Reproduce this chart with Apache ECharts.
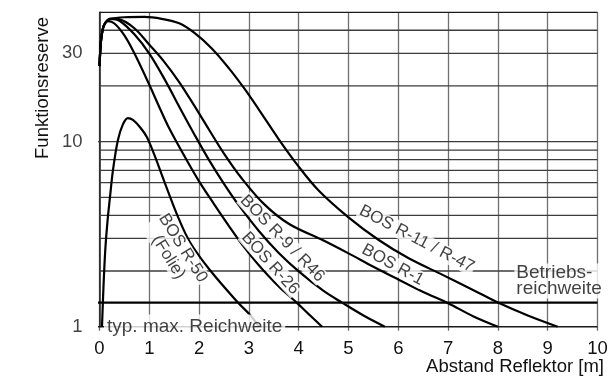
<!DOCTYPE html>
<html><head><meta charset="utf-8">
<script src="https://cdn.jsdelivr.net/npm/echarts@6/dist/echarts.min.js"></script>
<style>html,body{margin:0;padding:0;background:#fff}#c{width:611px;height:376px}</style>
</head><body><div id="c"></div>
<script>
// ---- data ----
const xTicks = [0, 1, 2, 3, 4, 5, 6, 7, 8, 9, 10];
const yTickLabels = [1, 10, 30];
const yGridValues = [1, 2, 3, 4, 5, 6, 7, 8, 9, 10, 20, 30, 40, 50];
const betriebsreichweite = 1.35;

const r50X = [0.05, 0.07, 0.09, 0.12, 0.16, 0.21, 0.27, 0.37, 0.47, 0.57, 0.67, 0.81, 0.95, 1.1, 1.3, 1.58, 1.82, 2.2, 2.78, 3.02, 3.2];
const r50Y = [1.0, 1.4, 1.9, 2.7, 3.7, 5.0, 7.0, 10.2, 12.4, 13.4, 13.1, 12.0, 10.6, 8.5, 6.1, 3.9, 2.85, 2.05, 1.35, 1.16, 1.0];

const r26X = [0, 0.03, 0.07, 0.12, 0.17, 0.3, 0.5, 0.7, 1.0, 1.2, 1.4, 1.7, 2.0, 2.3, 2.6, 2.9, 3.2, 3.6, 3.96, 4.2, 4.47];
const r26Y = [25.6, 35, 41, 44, 44.8, 43.5, 37.5, 30, 20.3, 15.4, 11.8, 8.4, 6.1, 4.6, 3.5, 2.7, 2.15, 1.65, 1.35, 1.17, 1.0];

const r9X = [0, 0.03, 0.07, 0.12, 0.22, 0.4, 0.7, 1.0, 1.3, 1.65, 1.9, 2.2, 2.5, 2.8, 3.2, 3.6, 4.0, 4.5, 4.87, 5.3, 5.73];
const r9Y = [25.6, 35, 41, 44, 46, 45, 38.0, 29.9, 21.9, 14.6, 11.0, 7.95, 5.92, 4.52, 3.29, 2.5, 1.99, 1.56, 1.35, 1.15, 1.0];

const r1X = [0, 0.03, 0.07, 0.12, 0.22, 0.4, 0.7, 1.0, 1.3, 1.6, 1.9, 2.2, 2.5, 2.85, 3.3, 3.8, 4.5, 5.0, 5.5, 6.0, 6.5, 7.0, 7.5, 8.0];
const r1Y = [25.6, 35, 41, 44, 46.2, 45.8, 41, 33.4, 27.0, 21.0, 15.7, 11.6, 8.62, 6.36, 4.61, 3.6, 2.92, 2.49, 2.11, 1.8, 1.54, 1.34, 1.14, 1.0];

const r11X = [0, 0.03, 0.07, 0.12, 0.2, 0.5, 0.9, 1.25, 1.6, 1.9, 2.25, 2.6, 2.9, 3.2, 3.6, 4.0, 4.4, 5.0, 5.6, 6.2, 6.9, 7.5, 8.0, 8.6, 9.2];
const r11Y = [25.6, 35, 41, 44, 45.8, 47, 47.2, 46.1, 43.6, 38.8, 32, 24.9, 19.5, 14.9, 10.3, 7.33, 5.45, 3.9, 2.95, 2.35, 1.9, 1.58, 1.35, 1.15, 1.0];

const curveNames = ['BOS R-50 (Folie)', 'BOS R-26', 'BOS R-9 / R46', 'BOS R-1', 'BOS R-11 / R-47'];
const labelTexts = ['BOS R-50\n(Folie)', 'BOS R-26', 'BOS R-9 / R46', 'BOS R-1', 'BOS R-11 / R-47', 'Betriebs-\nreichweite', 'typ. max. Reichweite'];
const xAxisTitle = 'Abstand Reflektor [m]';
const yAxisTitle = 'Funktionsreserve';

// ---- layout / style (not data) ----
const FONT = 'Liberation Sans, Arial, sans-serif';
const labelAnchors = [[1.53, 2.51], [3.43, 2.20], [3.67, 3.0], [5.89, 2.16], [6.37, 2.98], [8.33, 1.766], [0.09, 1.0]];
const labelRotate = [-58, -48, -46, -29, -27.5, 0, 0];
const gridStart = { 1: -0.23, 10: -0.13 };

const zip = (xs, ys) => xs.map((x, i) => [x, ys[i]]);
const curves = [zip(r50X, r50Y), zip(r26X, r26Y), zip(r9X, r9Y), zip(r1X, r1Y), zip(r11X, r11Y)];

const series = [];
yGridValues.forEach(v => {
  const x0 = gridStart[v] !== undefined ? gridStart[v] : 0;
  series.push({
    type: 'line', silent: true, clip: false, symbol: 'none', z: 1,
    data: [[x0, v], [xTicks[xTicks.length - 1], v]],
    lineStyle: { color: (v === 1 || v === 50) ? '#1a1a1a' : '#3c3c3c', width: (v === 1) ? 1.5 : 1.3 },
    animation: false
  });
});
series.push({
  type: 'line', silent: true, clip: false, symbol: 'none', z: 2,
  data: [[-0.21, betriebsreichweite], [10, betriebsreichweite]],
  lineStyle: { color: '#000', width: 2.4 }, animation: false
});
curves.forEach((c, i) => {
  series.push({
    name: curveNames[i], type: 'line', data: c, symbol: 'none', smooth: 0.35, z: 3,
    lineStyle: { color: '#000', width: 2.2 }, animation: false
  });
});
// y tick labels
series.push({
  type: 'scatter', symbolSize: 0, silent: true, z: 4,
  data: yTickLabels.map(v => [0, v]),
  label: { show: true, position: 'left', distance: 17, formatter: p => String(p.value[1]),
    fontSize: 18.5, fontFamily: FONT, color: '#111' },
  animation: false
});
// annotations
series.push({
  type: 'scatter', symbolSize: 0, silent: true, z: 10,
  data: labelTexts.map((t, i) => {
    const left = labelRotate[i] === 0;
    return {
      value: labelAnchors[i],
      label: {
        show: true, formatter: t, rotate: labelRotate[i],
        position: left ? 'right' : 'inside', distance: 0,
        align: left ? 'left' : 'center',
        fontSize: left ? 19 : 17, lineHeight: left ? 16.5 : 17,
        fontFamily: FONT, color: '#111', backgroundColor: '#fff',
        padding: i === 6 ? [4, 3, 4, 3] : (left ? [1, 2, 1, 2] : [0, 1])
      }
    };
  }),
  animation: false
});

const chart = echarts.init(document.getElementById('c'), null, { renderer: 'canvas' });
chart.setOption({
  animation: false,
  backgroundColor: '#fff',
  grid: { left: 99.5, right: 13.5, top: 12.3, bottom: 49.3, containLabel: false, outerBoundsMode: 'none' },
  xAxis: {
    type: 'value', min: 0, max: 10, interval: 1,
    axisLine: { show: false },
    axisTick: { show: true, length: 4, lineStyle: { color: '#666', width: 1.3 } },
    axisLabel: { fontSize: 18.5, fontFamily: FONT, color: '#111', margin: 13 },
    splitLine: { show: true, lineStyle: { color: '#707070', width: 1.3 } }
  },
  yAxis: {
    type: 'log', logBase: 10, min: 1, max: 50,
    axisLine: { show: true, lineStyle: { color: '#1a1a1a', width: 1.5 } },
    axisTick: { show: false }, axisLabel: { show: false }, splitLine: { show: false }
  },
  graphic: [
    { type: 'text', x: 43, y: 88, rotation: Math.PI / 2,
      style: { text: yAxisTitle, fontSize: 18.5, fontFamily: FONT, fill: '#111', align: 'center', verticalAlign: 'middle' } },
    { type: 'text', x: 604, y: 367,
      style: { text: xAxisTitle, fontSize: 18.5, fontFamily: FONT, fill: '#111', align: 'right', verticalAlign: 'middle' } }
  ],
  series: series
});
</script>
</body></html>
